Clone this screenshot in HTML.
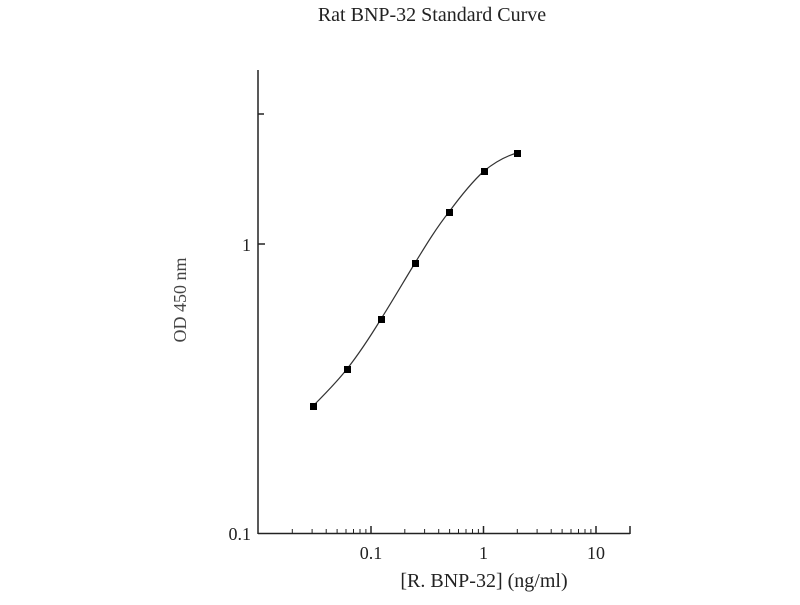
<!DOCTYPE html>
<html><head><style>body{margin:0;background:#fff}</style></head><body>
<svg width="800" height="600" xmlns="http://www.w3.org/2000/svg" font-family="Liberation Serif, serif" fill="#222">
<text x="432" y="21" font-size="20" text-anchor="middle">Rat BNP-32 Standard Curve</text>
<g stroke="#222" stroke-width="1.5" fill="none">
<line x1="258" y1="70" x2="258" y2="534"/>
<line x1="258" y1="533.5" x2="630" y2="533.5"/>
<line x1="258" y1="244" x2="265" y2="244"/>
<line x1="258" y1="114" x2="264" y2="114"/>
<line x1="371" y1="534" x2="371" y2="526"/>
<line x1="483.5" y1="534" x2="483.5" y2="526"/>
<line x1="596" y1="534" x2="596" y2="526"/>
<line x1="630" y1="534" x2="630" y2="526"/>
</g>
<g stroke="#222" stroke-width="1" id="m">
<line x1="292.3" y1="534" x2="292.3" y2="529"/>
<line x1="312.1" y1="534" x2="312.1" y2="529"/>
<line x1="326.2" y1="534" x2="326.2" y2="529"/>
<line x1="337.1" y1="534" x2="337.1" y2="529"/>
<line x1="346.0" y1="534" x2="346.0" y2="529"/>
<line x1="353.5" y1="534" x2="353.5" y2="529"/>
<line x1="360.0" y1="534" x2="360.0" y2="529"/>
<line x1="365.9" y1="534" x2="365.9" y2="529"/>
</g>
<use href="#m" x="112.5"/>
<use href="#m" x="225"/>
<text x="371" y="559" font-size="18" text-anchor="middle">0.1</text>
<text x="483.5" y="559" font-size="18" text-anchor="middle">1</text>
<text x="596" y="559" font-size="18" text-anchor="middle">10</text>
<text x="251" y="540" font-size="18" text-anchor="end">0.1</text>
<text x="251" y="251" font-size="18" text-anchor="end">1</text>
<text x="484" y="587" font-size="20" text-anchor="middle">[R. BNP-32] (ng/ml)</text>
<text transform="translate(186,300) rotate(-90)" font-size="18" text-anchor="middle" fill="#444">OD 450 nm</text>
<path d="M313,406 C324,395 336,383 347,369 C358,355 370,337 381,319 C393,300 404,281 415,263 C426,245 437,227 449,212 C460,197 472,182 484,171 C495,162 506,156 517,153" fill="none" stroke="#333" stroke-width="1.2"/>
<g fill="#000">
<rect x="310" y="403" width="7" height="7"/>
<rect x="344" y="366" width="7" height="7"/>
<rect x="378" y="316" width="7" height="7"/>
<rect x="412" y="260" width="7" height="7"/>
<rect x="446" y="209" width="7" height="7"/>
<rect x="481" y="168" width="7" height="7"/>
<rect x="514" y="150" width="7" height="7"/>
</g>
</svg>
</body></html>
